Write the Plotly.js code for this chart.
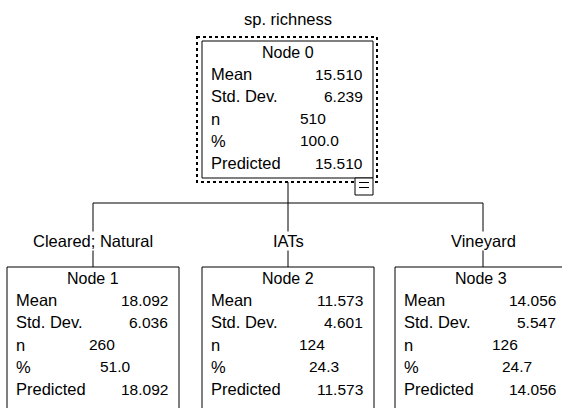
<!DOCTYPE html>
<html><head><meta charset="utf-8">
<script src="https://cdn.plot.ly/plotly-3.0.1.min.js"></script>
<style>body{margin:0;padding:0;background:#fff}#c{width:562px;height:408px}</style>
</head><body><div id="c"></div>
<script>
// Data
const nodeNames = ["Node 0", "Node 1", "Node 2", "Node 3"];
const means = ["15.510", "18.092", "11.573", "14.056"];
const stdDevs = ["6.239", "6.036", "4.601", "5.547"];
const ns = ["510", "260", "124", "126"];
const pcts = ["100.0", "51.0", "24.3", "24.7"];
const predicted = ["15.510", "18.092", "11.573", "14.056"];
const branchLabels = ["Cleared; Natural", "IATs", "Vineyard"];
const rowLabels = ["Mean", "Std. Dev.", "n", "%", "Predicted"];
const treeTitle = "sp. richness";

// Layout geometry (pixels)
const F = "Arial, Liberation Sans, sans-serif";
const boxes = [
  {x0: 202, x1: 373, y0: 41, y1: 178, nx: 97, px: 97},
  {x0: 7, x1: 179, y0: 267, y1: 420, nx: 81, px: 92},
  {x0: 202, x1: 374, y0: 267, y1: 420, nx: 96, px: 106},
  {x0: 395, x1: 567, y0: 267, y1: 420, nx: 96, px: 106}
];
const shapes = [];
const ann = [];
const line = {color: "#000", width: 1};
function txt(x, y, t, xa, size) {
  ann.push({x: x, y: y, text: t, xanchor: xa, yanchor: "middle", font: {family: F, size: size, color: "#000"}});
}

boxes.forEach((b, i) => {
  shapes.push({type: "rect", x0: b.x0, x1: b.x1, y0: b.y0, y1: b.y1, line: line, fillcolor: "rgba(0,0,0,0)"});
  const cx = (b.x0 + b.x1) / 2;
  const top = b.y0 + 11;
  const step = 22.2;
  txt(cx, top, nodeNames[i], "center", 16);
  const vals = [means[i], stdDevs[i], ns[i], pcts[i], predicted[i]];
  rowLabels.forEach((lab, r) => {
    const y = top + step * (r + 1);
    txt(b.x0 + 8, y, lab, "left", 16.5);
    if (r === 2) txt(b.x0 + b.nx, y, vals[r], "left", 15.5);
    else if (r === 3) txt(b.x0 + b.px, y, vals[r], "left", 15.5);
    else txt(b.x0 + 162, y, vals[r], "right", 15.5);
  });
});

// dotted selection box around node 0
shapes.push({type: "rect", x0: 197, x1: 377, y0: 37, y1: 182, line: {color: "#000", width: 2, dash: "dot"}, fillcolor: "rgba(0,0,0,0)"});
// collapse button
shapes.push({type: "rect", x0: 355, x1: 373, y0: 178, y1: 195, line: line, fillcolor: "#fff"});
shapes.push({type: "line", x0: 359, x1: 369, y0: 187.5, y1: 187.5, line: line});
shapes.push({type: "line", x0: 359, x1: 369, y0: 182.5, y1: 182.5, line: line});

// connectors
const childX = [93, 288, 483];
shapes.push({type: "line", x0: 288, x1: 288, y0: 182, y1: 203, line: line});
shapes.push({type: "line", x0: childX[0], x1: childX[2], y0: 203, y1: 203, line: line});
childX.forEach((x, i) => {
  shapes.push({type: "line", x0: x, x1: x, y0: 203, y1: 267, line: line});
  ann.push({x: x, y: 241, text: branchLabels[i], xanchor: "center", yanchor: "middle", bgcolor: "#fff",
            font: {family: F, size: 16.5, color: "#000"}});
});
txt(288, 19, treeTitle, "center", 16.5);

ann.forEach(a => { a.xref = "x"; a.yref = "y"; a.showarrow = false; a.borderpad = 0; });
shapes.forEach(s => { s.xref = "x"; s.yref = "y"; });

Plotly.newPlot("c", [{x: [0], y: [0], mode: "markers", marker: {opacity: 0}, hoverinfo: "skip", showlegend: false}], {
  width: 562, height: 408,
  margin: {l: 0, r: 0, t: 0, b: 0},
  paper_bgcolor: "#fff", plot_bgcolor: "#fff",
  xaxis: {range: [0, 562], visible: false, fixedrange: true},
  yaxis: {range: [408, 0], visible: false, fixedrange: true},
  shapes: shapes, annotations: ann, showlegend: false
}, {staticPlot: true, displayModeBar: false});
</script></body></html>
